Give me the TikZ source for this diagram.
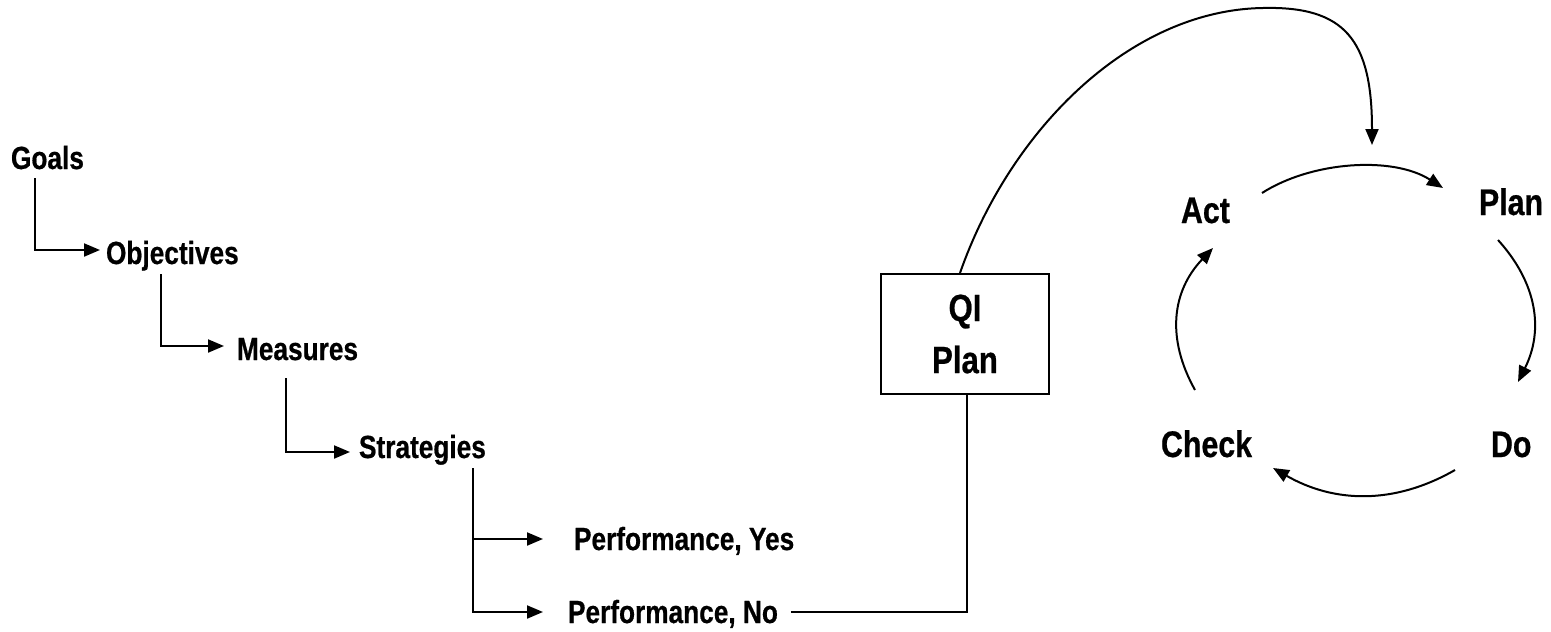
\documentclass[tikz,border=0pt]{standalone}
\usepackage{fontspec}
\usetikzlibrary{arrows.meta,calc}
\newfontfamily\lblfont{Liberation Sans}[FakeStretch=0.82, BoldFeatures={FakeBold=0.6}]
\tikzset{
  lab/.style={inner sep=0pt, anchor=base west, font=\lblfont\bfseries\fontsize{32}{38}\selectfont},
  cyc/.style={inner sep=0pt, anchor=base west, font=\lblfont\bfseries\fontsize{37}{44}\selectfont},
  arr/.style={-{Triangle[length=16pt,width=13pt]}},
  qibox/.style={draw, minimum width=168pt, minimum height=120pt, inner sep=0pt, align=center,
    font=\lblfont\bfseries\fontsize{38}{52}\selectfont}
}
\begin{document}
\begin{tikzpicture}[x=1pt,y=-1pt,line width=2pt]
\useasboundingbox (0,0) rectangle (1551,632);
% left hierarchy
\node[lab] (goals) at (10,169) {Goals};
\node[lab] (obj) at (105,264) {Objectives};
\node[lab] (meas) at (236,360) {Measures};
\node[lab] (strat) at (358,458) {Strategies};
\node[lab] (yes) at (573,550) {Performance, Yes};
\node[lab] (no) at (567,623) {Performance, No};
\draw[arr] ([shift={(25,9)}]goals.base west) |- ([shift={(-5,-14)}]obj.base west);
\draw[arr] ([shift={(56,10)}]obj.base west) |- ([shift={(-12,-14)}]meas.base west);
\draw[arr] ([shift={(50,18)}]meas.base west) |- ([shift={(-8,-6)}]strat.base west);
\coordinate (sbr) at ([shift={(115,10)}]strat.base west);
\draw[arr] (sbr) |- ([shift={(-30,-11)}]yes.base west);
\draw[arr] (sbr) |- ([shift={(-24,-11)}]no.base west);
% QI plan box
\node[qibox] (qi) at (965,334) {QI\\Plan};
\draw ([shift={(12,-11)}]no.base east) -| ([xshift=2pt]qi.south);
% cycle labels
\node[cyc] (act) at (1180,223) {Act};
\node[cyc] (plan) at (1478,215) {Plan};
\node[cyc] (check) at (1160,457) {Check};
\node[cyc] (do) at (1490,457) {Do};
% big curve into the cycle
\coordinate (qitop) at ([xshift=-5pt]qi.north);
\coordinate (intoplan) at (1372,145);
\draw[arr] (qitop) .. controls (1010,130) and (1130,10) .. (1263,8)
  .. controls (1345,6) and (1372,40) .. (intoplan);
% cycle arcs
\coordinate (a1s) at (1262,193); \coordinate (a1e) at (1443,188);
\coordinate (a2s) at (1498,240); \coordinate (a2e) at (1518,382);
\coordinate (a3s) at (1455,470); \coordinate (a3e) at (1273,468);
\coordinate (a4s) at (1195,390); \coordinate (a4e) at (1213,248);
\draw[arr] (a1s) .. controls (1312,161) and (1393,156) .. (a1e);
\draw[arr] (a2s) .. controls (1537,283) and (1544,330) .. (a2e);
\draw[arr] (a3s) .. controls (1394,505) and (1334,503) .. (a3e);
\draw[arr] (a4s) .. controls (1166,338) and (1172,291) .. (a4e);
\end{tikzpicture}
\end{document}
